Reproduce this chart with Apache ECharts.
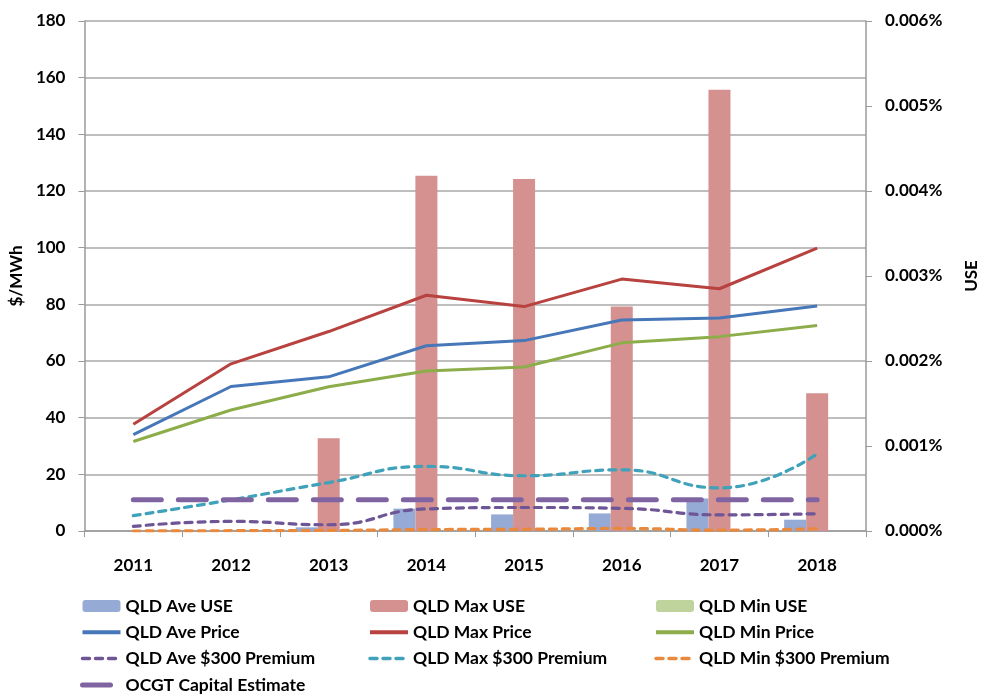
<!DOCTYPE html>
<html>
<head>
<meta charset="utf-8">
<script src="https://cdn.jsdelivr.net/npm/echarts@6/dist/echarts.min.js"></script>
<style>
  html, body { margin: 0; padding: 0; background: #fff; }
  #myChart { width: 988px; height: 695px; }
</style>
</head>
<body>
<div id="myChart"></div>
<script>
// 数据
var years = ['2011', '2012', '2013', '2014', '2015', '2016', '2017', '2018']
// USE in percent (right axis)
var aveUse = [0, 0, 0.000043, 0.000263, 0.000195, 0.000207, 0.000383, 0.000133]
var maxUse = [0, 0, 0.00109, 0.00418, 0.00414, 0.00264, 0.00519, 0.00162]
var minUse = [0, 0, 0, 0, 0, 0, 0, 0]
// $/MWh (left axis)
var avePrice = [34.0, 51.0, 54.4, 65.4, 67.2, 74.5, 75.2, 79.4]
var maxPrice = [37.7, 59.0, 70.4, 83.2, 79.2, 88.9, 85.5, 99.8]
var minPrice = [31.6, 42.7, 50.9, 56.5, 57.9, 66.4, 68.6, 72.5]
var avePremium = [1.6, 3.4, 2.2, 7.8, 8.3, 8.0, 5.7, 6.1]
var maxPremium = [5.4, 11.0, 17.1, 22.8, 19.5, 21.6, 15.2, 27.2]
var minPremium = [0, 0.1, 0.2, 0.5, 0.6, 0.9, 0.3, 0.8]
var ocgt = [11, 11, 11, 11, 11, 11, 11, 11]

var font = 'Lato'
var axisColor = '#9a9a9a'

// legend entry: bars keep the default rect, lines hide the circle and get a thick line
function bar (name) { return { name: name } }
function line (name, w) {
  return { name: name, itemStyle: { opacity: 0 }, lineStyle: { width: w } }
}

function legendCol (left, items) {
  return {
    orient: 'vertical',
    left: left,
    top: 597,
    height: 98,
    padding: 0,
    itemWidth: 38,
    itemHeight: 12,
    itemGap: 8.3,
    selectedMode: false,
    textStyle: { fontFamily: font, fontWeight: 'bold', fontSize: 17.5, lineHeight: 18, color: '#000' },
    data: items
  }
}

function barSeries (name, data, color) {
  return {
    name: name,
    type: 'bar',
    yAxisIndex: 1,
    barWidth: 22,
    barGap: '0%',
    data: data,
    itemStyle: { color: color },
    z: 1
  }
}

function lineSeries (name, data, color, width, dash, smooth) {
  return {
    name: name,
    type: 'line',
    yAxisIndex: 0,
    data: data,
    symbol: 'none',
    smooth: smooth,
    itemStyle: { color: color },
    lineStyle: { color: color, width: width, type: dash || 'solid', cap: dash ? 'round' : 'butt' },
    z: 3
  }
}

var myChart = echarts.init(document.getElementById('myChart'))
myChart.setOption({
  backgroundColor: '#fff',
  animation: false,
  grid: { left: 83, right: 112, top: 21, bottom: 164, containLabel: false },
  legend: [
    legendCol(80, [bar('QLD Ave USE'), line('QLD Ave Price', 4), line('QLD Ave $300 Premium', 3.5), line('OCGT Capital Estimate', 5)]),
    legendCol(368, [bar('QLD Max USE'), line('QLD Max Price', 4), line('QLD Max $300 Premium', 3.5)]),
    legendCol(654, [bar('QLD Min USE'), line('QLD Min Price', 4), line('QLD Min $300 Premium', 3.5)])
  ],
  xAxis: {
    type: 'category',
    data: years,
    axisLine: { lineStyle: { color: axisColor, width: 1.5 } },
    axisTick: { show: true, length: 6, lineStyle: { color: axisColor } },
    axisLabel: { margin: 26, color: '#000', fontFamily: font, fontWeight: 'bold', fontSize: 17 }
  },
  yAxis: [
    {
      type: 'value',
      min: 0,
      max: 180,
      interval: 20,
      name: '$/MWh',
      nameLocation: 'middle',
      nameGap: 52,
      nameRotate: 90,
      nameTextStyle: { color: '#000', fontFamily: font, fontWeight: 'bold', fontSize: 17 },
      axisLine: { show: true, lineStyle: { color: axisColor, width: 1.5 } },
      axisTick: { show: true, length: 6, lineStyle: { color: axisColor } },
      axisLabel: { margin: 19, color: '#000', fontFamily: font, fontWeight: 'bold', fontSize: 17 },
      splitLine: { lineStyle: { color: '#a8a8a8', width: 1.5 } }
    },
    {
      type: 'value',
      min: 0,
      max: 0.006,
      interval: 0.001,
      name: 'USE',
      nameLocation: 'middle',
      nameGap: 97,
      nameRotate: 90,
      nameTextStyle: { color: '#000', fontFamily: font, fontWeight: 'bold', fontSize: 17 },
      axisLine: { show: true, lineStyle: { color: axisColor, width: 1.5 } },
      axisTick: { show: true, length: 6, lineStyle: { color: axisColor } },
      axisLabel: {
        margin: 19,
        color: '#000',
        fontFamily: font,
        fontWeight: 'bold',
        fontSize: 17,
        formatter: function (v) { return v.toFixed(3) + '%' }
      },
      splitLine: { show: false }
    }
  ],
  series: [
    barSeries('QLD Ave USE', aveUse, '#95aad5'),
    barSeries('QLD Max USE', maxUse, '#d49190'),
    barSeries('QLD Min USE', minUse, '#bfd49c'),
    lineSeries('QLD Ave Price', avePrice, '#4677b8', 3, null, false),
    lineSeries('QLD Max Price', maxPrice, '#b8423f', 3, null, false),
    lineSeries('QLD Min Price', minPrice, '#8cad4a', 3, null, false),
    lineSeries('QLD Ave $300 Premium', avePremium, '#6e5596', 3.2, [7, 6], true),
    lineSeries('QLD Max $300 Premium', maxPremium, '#3fa2ba', 3.2, [7, 6], true),
    lineSeries('QLD Min $300 Premium', minPremium, '#e8893d', 3.2, [7, 6], true),
    lineSeries('OCGT Capital Estimate', ocgt, '#8064a2', 5, [28, 17], false)
  ]
})
</script>
</body>
</html>
